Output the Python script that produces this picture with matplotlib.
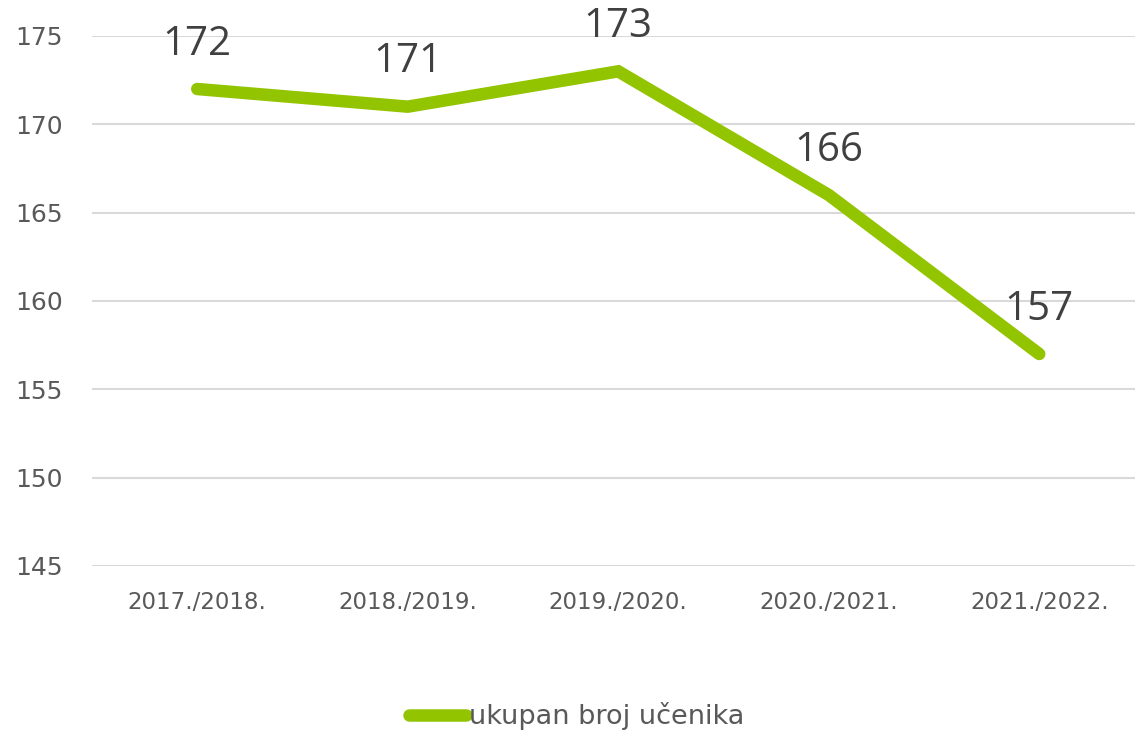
import matplotlib.pyplot as plt

years = ['2017./2018.', '2018./2019.', '2019./2020.', '2020./2021.', '2021./2022.']
students = [172, 171, 173, 166, 157]
y_ticks = [145, 150, 155, 160, 165, 170, 175]
series_name = 'ukupan broj učenika'

green = '#92c400'
grey_text = '#595959'

fig = plt.figure(figsize=(11.35, 7.35), dpi=100)
# axes extends slightly past the right edge, like the cropped original
ax = fig.add_axes([92 / 1135, 169 / 735, 1052.5 / 1135, 530 / 735])

x = list(range(len(years)))
line, = ax.plot(x, students, color=green, lw=9, solid_capstyle='round',
                solid_joinstyle='miter', label=series_name, zorder=3)

for xi, v in zip(x, students):
    ax.annotate(str(v), (xi, v), xytext=(0, 32), textcoords='offset points',
                ha='center', va='center', fontsize=29, color='#404040',
                family='Open Sans', zorder=4)

ax.set_xlim(-0.5, len(years) - 0.5)
ax.set_ylim(145, 175)
ax.set_yticks(y_ticks)
ax.set_xticks(x)
ax.set_xticklabels(years)
ax.grid(axis='y', color='#d9d9d9', lw=1.5, zorder=0)
ax.set_axisbelow(True)
for s in ax.spines.values():
    s.set_visible(False)
ax.tick_params(axis='y', length=0, pad=21, labelsize=18, labelcolor=grey_text)
ax.tick_params(axis='x', length=0, pad=18, labelsize=16.5, labelcolor=grey_text)

fig.legend(handles=[line], loc='center', bbox_to_anchor=(577 / 1135, 1 - 716 / 735),
           frameon=False, fontsize=19.5, handlelength=2.1, handletextpad=0.12,
           labelcolor=grey_text)

fig.savefig('out.png', dpi=100)
